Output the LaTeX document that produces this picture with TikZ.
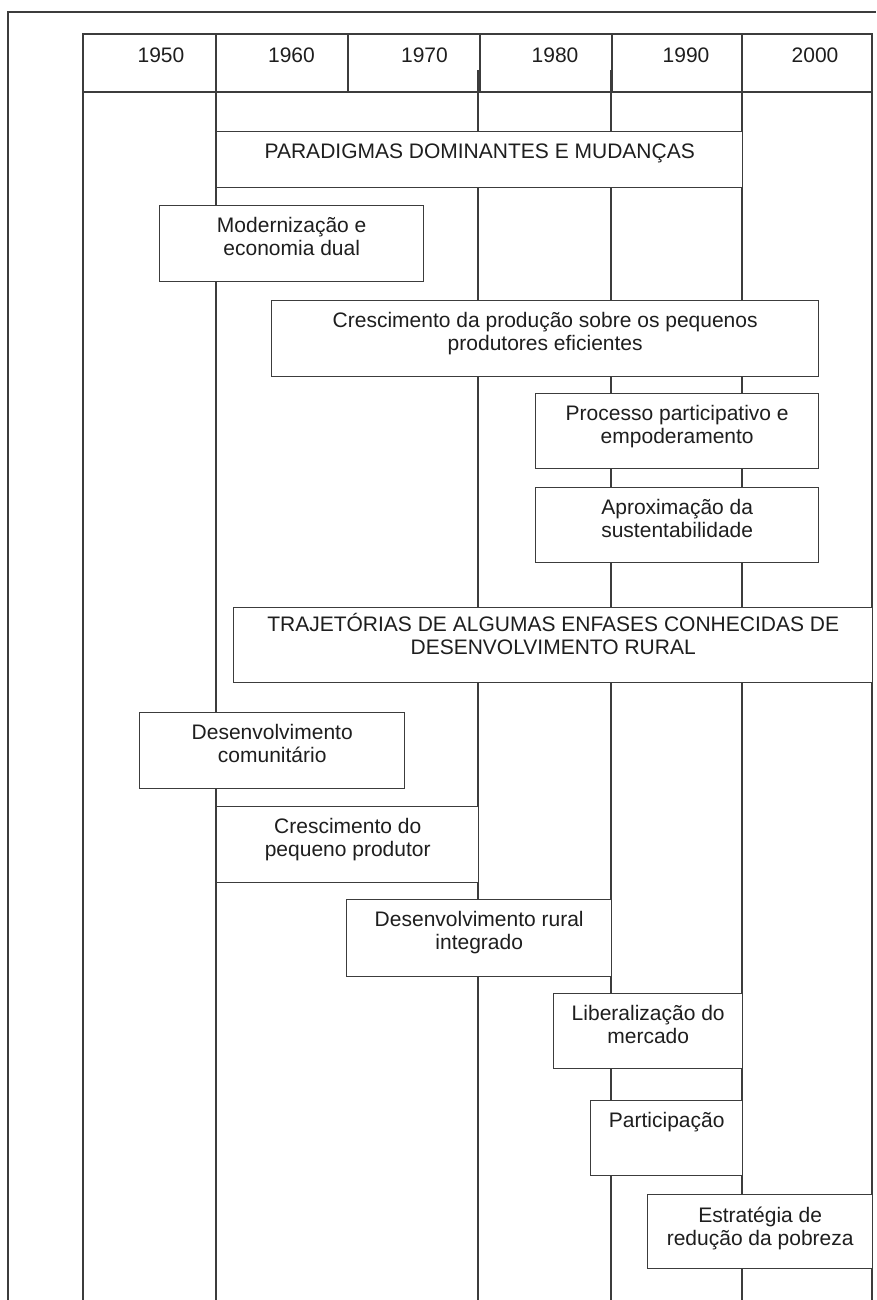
\documentclass[tikz,border=0pt]{standalone}
\usepackage{fontspec}
\setmainfont{Liberation Sans}
\usetikzlibrary{positioning}
\definecolor{gline}{HTML}{3C3C3C}
\definecolor{gtext}{HTML}{1E1E1E}

\begin{document}
\begin{tikzpicture}[x=1pt, y=-1pt, line width=1.4pt,
  box/.style={draw=gline, fill=white, inner sep=0pt, anchor=north west},
  txt/.style={anchor=north, inner sep=0pt, align=center, text=gtext, font=\fontsize{21}{23}\selectfont},
]
\useasboundingbox (0,0) rectangle (876,1300);
% outer frame
\draw[gline] (8,1300) -- (8,12) -- (876,12);
% decade columns
\foreach \x in {216,478,611,742,872}
  \draw[gline] (\x,70) -- (\x,1300);
\draw[gline] (83,92) -- (83,1300);
\draw[gline] (83,34) rectangle (872,92);
\foreach \x in {216,348,480,612,742}
  \draw[gline] (\x,34) -- (\x,92);
\foreach \x/\l [count=\i] in {161/1950,291.5/1960,424.5/1970,555/1980,686/1990,815/2000}
  \node[txt] (yr\i) at (\x,47) {\l};

% paradigms
\node[box, minimum width=526pt, minimum height=56pt] (parad) at (216,131) {};
\node[txt] (parad-t) at ([yshift=-12pt]parad.north) {PARADIGMAS DOMINANTES E MUDANÇAS};
\node[box, minimum width=264pt, minimum height=76pt] (moder) at (159,205) {};
\node[txt] (moder-t) at ([yshift=-12pt]moder.north) {Modernização e\\economia dual};
\node[box, minimum width=547pt, minimum height=76pt] (cresc) at (271,300) {};
\node[txt] (cresc-t) at ([yshift=-12pt]cresc.north) {Crescimento da produção sobre os pequenos\\produtores eficientes};
\node[box, minimum width=283pt, minimum height=75pt] (proc) at (535,393) {};
\node[txt] (proc-t) at ([yshift=-12pt]proc.north) {Processo participativo e\\empoderamento};
\node[box, minimum width=283pt, minimum height=75pt] (aprox) at (535,487) {};
\node[txt] (aprox-t) at ([yshift=-12pt]aprox.north) {Aproximação da\\sustentabilidade};

% rural development trajectories
\node[box, minimum width=639pt, minimum height=75pt] (traj) at (233,607) {};
\node[txt] (traj-t) at ([yshift=-6pt]traj.north) {TRAJETÓRIAS DE ALGUMAS ENFASES CONHECIDAS DE\\DESENVOLVIMENTO RURAL};
\node[box, minimum width=265pt, minimum height=76pt] (comun) at (139,712) {};
\node[txt] (comun-t) at ([yshift=-12pt]comun.north) {Desenvolvimento\\comunitário};
\node[box, minimum width=262pt, minimum height=76pt] (peq) at (216,806) {};
\node[txt] (peq-t) at ([yshift=-12pt]peq.north) {Crescimento do\\pequeno produtor};
\node[box, minimum width=265pt, minimum height=77pt] (integ) at (346,899) {};
\node[txt] (integ-t) at ([yshift=-12pt]integ.north) {Desenvolvimento rural\\integrado};
\node[box, minimum width=189pt, minimum height=75pt] (liber) at (553,993) {};
\node[txt] (liber-t) at ([yshift=-12pt]liber.north) {Liberalização do\\mercado};
\node[box, minimum width=152pt, minimum height=75pt] (partic) at (590,1100) {};
\node[txt] (partic-t) at ([yshift=-12pt]partic.north) {Participação};
\node[box, minimum width=225pt, minimum height=74pt] (estrat) at (647,1194) {};
\node[txt] (estrat-t) at ([yshift=-12pt]estrat.north) {Estratégia de\\redução da pobreza};
\end{tikzpicture}
\end{document}
